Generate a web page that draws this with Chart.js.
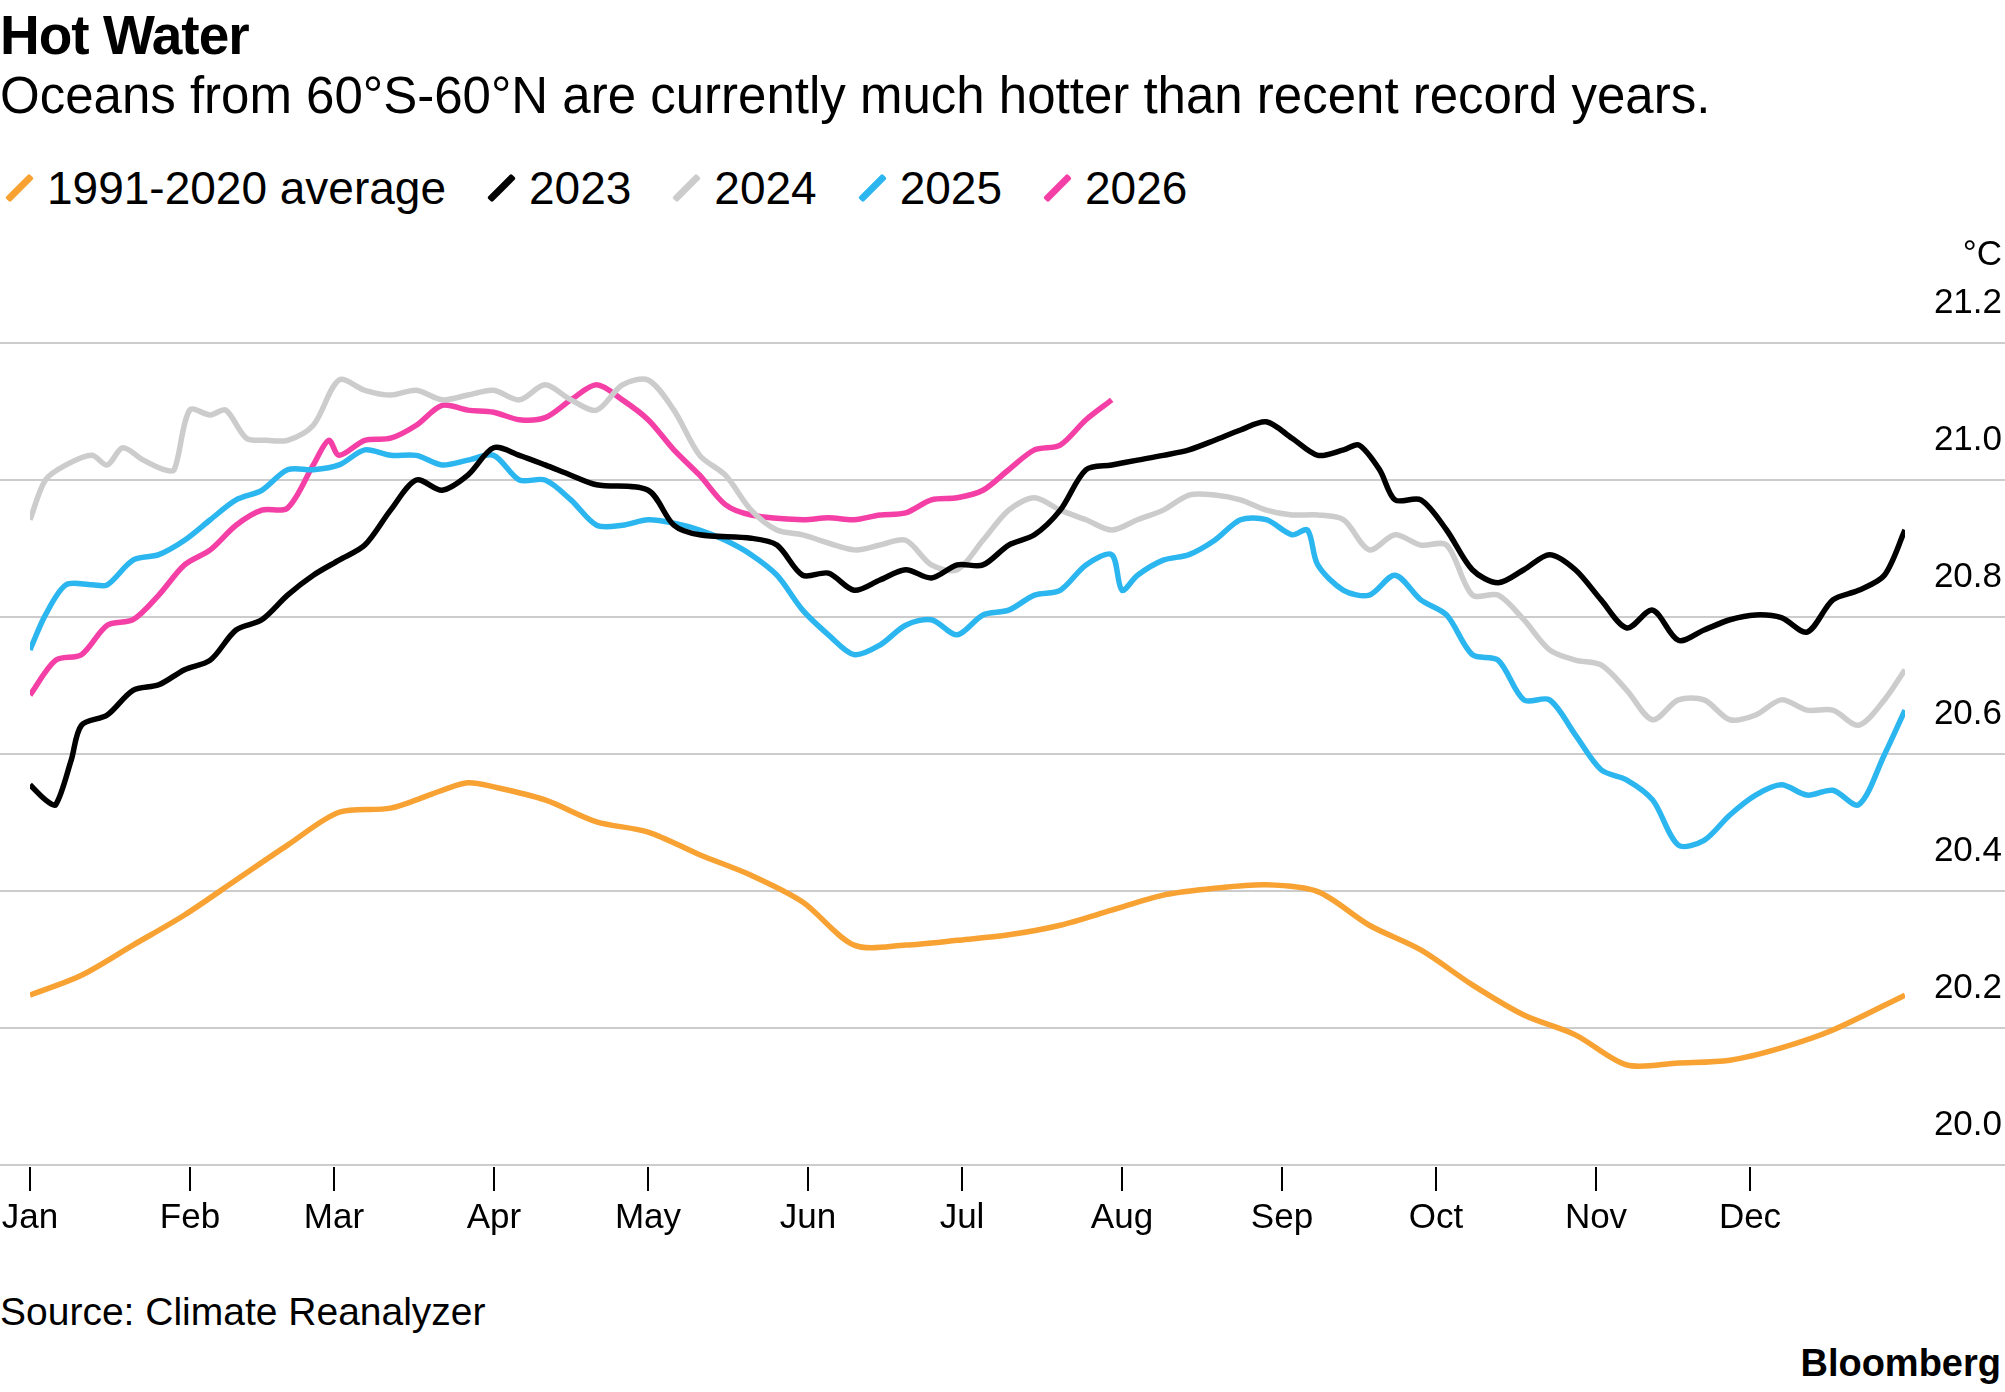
<!DOCTYPE html>
<html>
<head>
<meta charset="utf-8">
<script src="https://cdn.jsdelivr.net/npm/chart.js@4"></script>
<style>
  body { margin: 0; width: 2005px; height: 1392px; background: #fff; font-family: "Liberation Sans", Arial, sans-serif; position: relative; overflow: hidden; }
  #title, #subtitle, #legend, #source, #brand { line-height: 1; }
  #title { position: absolute; left: 0px; top: 8px; font-size: 55px; font-weight: bold; letter-spacing: -1px; }
  #subtitle { position: absolute; left: 0px; top: 70px; font-size: 51px; }
  #legend { position: absolute; left: 4px; top: 165px; font-size: 46px; display: flex; }
  .item { display: flex; align-items: center; margin-right: 40px; }
  .slash { width: 7px; height: 34px; transform: rotate(45deg); margin: 0 24px 0 12px; border-radius: 2px; }
  #source { position: absolute; left: 0px; top: 1292px; font-size: 39px; }
  #brand { position: absolute; right: 4px; top: 1344px; font-size: 38px; font-weight: bold; }
  canvas { position: absolute; left: 0; top: 0; }
</style>
</head>
<body>
<div id="title">Hot Water</div>
<div id="subtitle">Oceans from 60°S-60°N are currently much hotter than recent record years.</div>
<div id="legend"></div>
<div id="source">Source: Climate Reanalyzer</div>
<div id="brand">Bloomberg</div>
<canvas id="chart" width="2005" height="1392"></canvas>
<script>
// day of year, °C
const monthLabels = ['Jan','Feb','Mar','Apr','May','Jun','Jul','Aug','Sep','Oct','Nov','Dec'];
const monthStarts = [0,31,59,90,120,151,181,212,243,273,304,334];
const yTicks = [20.0, 20.2, 20.4, 20.6, 20.8, 21.0, 21.2];

const avg = [[0,20.248],[10,20.277],[20,20.321],[30,20.365],[40,20.416],[50,20.467],[60,20.515],[70,20.521],[80,20.547],[85,20.558],[90,20.552],[100,20.533],[110,20.501],[120,20.486],[130,20.453],[140,20.423],[150,20.384],[160,20.321],[170,20.321],[180,20.328],[190,20.336],[200,20.350],[210,20.372],[220,20.394],[230,20.404],[240,20.409],[250,20.399],[260,20.350],[270,20.314],[280,20.263],[290,20.219],[300,20.190],[310,20.146],[320,20.149],[330,20.153],[340,20.171],[350,20.197],[364,20.248]];

const y2023 = [[0,20.555],[3,20.533],[5,20.526],[8,20.591],[10,20.642],[15,20.657],[20,20.693],[25,20.701],[30,20.723],[35,20.737],[40,20.781],[45,20.796],[50,20.832],[55,20.861],[60,20.883],[65,20.905],[70,20.956],[75,21.0],[80,20.985],[85,21.007],[90,21.047],[95,21.036],[100,21.022],[105,21.007],[110,20.993],[120,20.985],[125,20.934],[130,20.920],[140,20.915],[145,20.905],[150,20.861],[155,20.864],[160,20.839],[165,20.854],[170,20.869],[175,20.857],[180,20.876],[185,20.876],[190,20.905],[195,20.920],[200,20.956],[205,21.015],[210,21.022],[215,21.029],[220,21.036],[225,21.044],[230,21.058],[235,21.073],[240,21.085],[245,21.061],[250,21.036],[255,21.044],[258,21.051],[262,21.015],[265,20.971],[270,20.971],[275,20.927],[280,20.869],[285,20.850],[290,20.869],[295,20.891],[300,20.869],[305,20.825],[310,20.784],[315,20.810],[320,20.766],[325,20.781],[330,20.796],[335,20.803],[340,20.799],[345,20.778],[350,20.825],[355,20.839],[360,20.861],[364,20.927]];

const y2024 = [[0,20.942],[3,21.0],[7,21.022],[12,21.036],[15,21.022],[18,21.047],[22,21.029],[26,21.015],[28,21.015],[31,21.102],[35,21.095],[38,21.102],[42,21.061],[46,21.058],[50,21.058],[55,21.080],[60,21.146],[65,21.131],[70,21.124],[75,21.131],[80,21.117],[85,21.124],[90,21.131],[95,21.117],[100,21.139],[105,21.117],[110,21.102],[115,21.139],[120,21.146],[125,21.102],[130,21.036],[135,21.007],[140,20.956],[145,20.927],[150,20.920],[160,20.898],[165,20.905],[170,20.912],[175,20.876],[180,20.869],[185,20.912],[190,20.956],[195,20.974],[200,20.956],[205,20.942],[210,20.927],[215,20.942],[220,20.956],[225,20.978],[230,20.978],[235,20.971],[240,20.956],[245,20.949],[250,20.949],[255,20.942],[260,20.898],[265,20.920],[270,20.905],[275,20.905],[280,20.832],[285,20.832],[290,20.796],[295,20.752],[300,20.737],[305,20.730],[310,20.693],[315,20.650],[320,20.679],[325,20.679],[330,20.650],[335,20.657],[340,20.679],[345,20.664],[350,20.664],[355,20.642],[360,20.679],[364,20.723]];

const y2025 = [[0,20.752],[3,20.803],[7,20.847],[12,20.847],[15,20.847],[20,20.883],[25,20.891],[30,20.912],[35,20.942],[40,20.971],[45,20.985],[50,21.015],[55,21.015],[60,21.022],[65,21.044],[70,21.036],[75,21.036],[80,21.022],[85,21.029],[90,21.036],[95,21.0],[100,21.0],[105,20.971],[110,20.934],[115,20.934],[120,20.942],[125,20.937],[130,20.927],[135,20.912],[140,20.891],[145,20.861],[150,20.810],[155,20.774],[160,20.745],[165,20.759],[170,20.788],[175,20.796],[180,20.774],[185,20.803],[190,20.810],[195,20.832],[200,20.839],[205,20.876],[210,20.891],[212,20.839],[215,20.861],[220,20.883],[225,20.891],[230,20.912],[235,20.942],[240,20.942],[245,20.920],[248,20.927],[250,20.876],[255,20.839],[260,20.832],[265,20.861],[270,20.825],[275,20.803],[280,20.745],[285,20.737],[290,20.679],[295,20.679],[300,20.628],[305,20.577],[310,20.562],[315,20.533],[320,20.467],[325,20.474],[330,20.511],[335,20.540],[340,20.555],[345,20.540],[350,20.547],[355,20.526],[360,20.599],[364,20.664]];

const y2026 = [[0,20.686],[5,20.737],[10,20.745],[15,20.788],[20,20.796],[25,20.832],[30,20.876],[35,20.898],[40,20.934],[45,20.956],[50,20.959],[55,21.022],[58,21.058],[60,21.036],[65,21.058],[70,21.061],[75,21.080],[80,21.109],[85,21.102],[90,21.099],[95,21.088],[100,21.091],[105,21.117],[110,21.139],[115,21.117],[120,21.088],[125,21.044],[130,21.007],[135,20.964],[140,20.949],[150,20.942],[155,20.945],[160,20.942],[165,20.949],[170,20.952],[175,20.971],[180,20.974],[185,20.985],[190,21.015],[195,21.044],[200,21.051],[205,21.088],[210,21.117]];

const seriesList = [
  { label: '1991-2020 average', data: avg, color: '#f7a233' },
  { label: '2023', data: y2023, color: '#000000' },
  { label: '2024', data: y2024, color: '#cccccc' },
  { label: '2025', data: y2025, color: '#2cb6ef' },
  { label: '2026', data: y2026, color: '#f43fa6' }
];

// legend
const legend = document.getElementById('legend');
seriesList.forEach(s => {
  const item = document.createElement('div');
  item.className = 'item';
  item.innerHTML = '<span class="slash" style="background:' + s.color + '"></span>' + s.label;
  legend.appendChild(item);
});

// draw gridlines, y labels and x ticks ourselves
const axesPlugin = {
  id: 'axesPlugin',
  beforeDatasetsDraw(chart) {
    const c = chart.ctx;
    const x = chart.scales.x, y = chart.scales.y;
    c.save();
    c.font = '35px "Liberation Sans", Arial, sans-serif';
    yTicks.forEach(t => {
      const py = Math.round(y.getPixelForValue(t));
      c.strokeStyle = '#cccccc';
      c.lineWidth = 2;
      c.beginPath(); c.moveTo(0, py); c.lineTo(chart.width, py); c.stroke();
      c.fillStyle = '#000';
      c.textAlign = 'right';
      c.textBaseline = 'bottom';
      c.fillText(t.toFixed(1), 2002, py - 22);
    });
    c.fillText('°C', 2002, y.getPixelForValue(21.2) - 70);
    const bottom = y.getPixelForValue(20.0);
    c.strokeStyle = '#000';
    c.lineWidth = 2;
    c.textAlign = 'center';
    c.textBaseline = 'middle';
    monthStarts.forEach((d, i) => {
      const px = Math.round(x.getPixelForValue(d));
      c.beginPath(); c.moveTo(px, bottom + 2); c.lineTo(px, bottom + 26); c.stroke();
      const w = c.measureText(monthLabels[i]).width;
      c.fillText(monthLabels[i], Math.max(px, w / 2), bottom + 53);
    });
    c.restore();
  }
};

new Chart(document.getElementById('chart'), {
  type: 'line',
  data: {
    datasets: seriesList.map(s => ({
      label: s.label,
      data: s.data.map(p => ({ x: p[0], y: p[1] })),
      borderColor: s.color,
      borderWidth: 5.5,
      pointRadius: 0,
      tension: 0.3,
      fill: false
    }))
  },
  options: {
    responsive: false,
    animation: false,
    layout: { padding: { left: 30, right: 100, top: 343, bottom: 227 } },
    plugins: { legend: { display: false }, tooltip: { enabled: false } },
    scales: {
      x: { type: 'linear', min: 0, max: 364, display: false },
      y: { min: 20.0, max: 21.2, display: false }
    }
  },
  plugins: [axesPlugin]
});
</script>
</body>
</html>
